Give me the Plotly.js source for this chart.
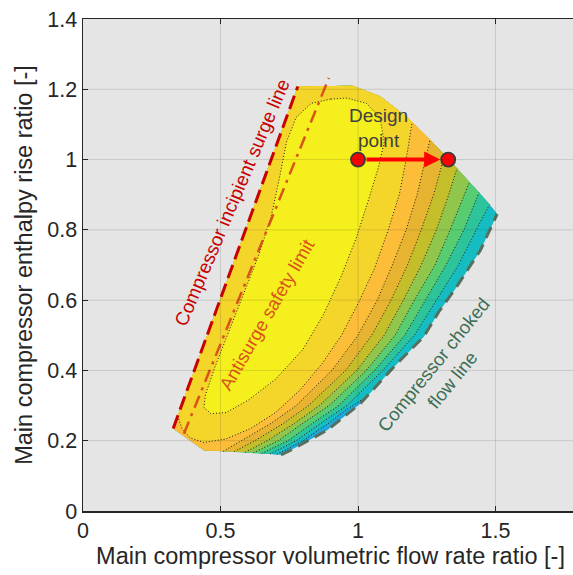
<!DOCTYPE html>
<html>
<head>
<meta charset="utf-8">
<script src="https://cdn.plot.ly/plotly-3.0.1.min.js"></script>
<style>
  html, body { margin: 0; padding: 0; overflow: hidden; background: #ffffff; }
  #chart { width: 578px; height: 575px; }
</style>
</head>
<body>
<div id="chart"></div>
<script>
// ---- axis ticks ----
const xTicks = [0, 0.5, 1, 1.5];
const yTicks = [0, 0.2, 0.4, 0.6, 0.8, 1, 1.2, 1.4];

// ---- operating map outline ----
// upper-right edge, from the choke tip to the top of the surge line
const arcX = [1.506, 1.47, 1.43, 1.36, 1.27, 1.18, 1.08, 0.98, 0.781];
const arcY = [0.845, 0.88, 0.915, 0.975, 1.05, 1.12, 1.18, 1.21, 1.208];
// incipient surge line (left edge)
const surgeX = [0.328, 0.781];
const surgeY = [0.235, 1.208];
// lower edge
const bottomX = [0.328, 0.44, 0.60, 0.72];
const bottomY = [0.235, 0.173, 0.167, 0.16];
// choked flow line (lower-right edge)
const chokeX = [0.72, 0.755, 0.888, 1.009, 1.13, 1.239, 1.294, 1.355, 1.445, 1.506];
const chokeY = [0.16, 0.173, 0.23, 0.306, 0.41, 0.496, 0.567, 0.634, 0.742, 0.845];
// antisurge safety limit
const antisurgeX = [0.367, 0.894];
const antisurgeY = [0.22, 1.232];

// ---- efficiency contour lines ----
// c1: closed island around the peak
const c1X = [0.90, 0.83, 0.775, 0.74, 0.715, 0.685, 0.64, 0.585, 0.53, 0.48, 0.445, 0.44, 0.465, 0.52, 0.60, 0.70, 0.80, 0.875, 0.94, 0.995, 1.04, 1.075, 1.095, 1.08, 1.03, 0.96, 0.90];
const c1Y = [1.172, 1.16, 1.12, 1.05, 0.95, 0.84, 0.73, 0.62, 0.51, 0.41, 0.33, 0.295, 0.277, 0.28, 0.315, 0.375, 0.46, 0.56, 0.67, 0.78, 0.89, 0.98, 1.05, 1.12, 1.16, 1.175, 1.172];
// open contours, each from the surge/lower edge to the upper-right/choke edge
const c2X = [0.344, 0.36, 0.39, 0.44, 0.52, 0.61, 0.70, 0.79, 0.87, 0.94, 1.00, 1.06, 1.11, 1.15, 1.175, 1.19, 1.197];
const c2Y = [0.27, 0.235, 0.208, 0.195, 0.205, 0.235, 0.28, 0.345, 0.42, 0.50, 0.59, 0.69, 0.80, 0.90, 1.00, 1.07, 1.107];
const c3X = [0.51, 0.575, 0.685, 0.775, 0.905, 1.00, 1.07, 1.125, 1.175, 1.215, 1.24, 1.262];
const c3Y = [0.17, 0.20, 0.25, 0.30, 0.40, 0.50, 0.60, 0.70, 0.80, 0.90, 0.98, 1.057];
const c4X = [0.55, 0.625, 0.73, 0.82, 0.955, 1.05, 1.12, 1.18, 1.23, 1.275, 1.315];
const c4Y = [0.169, 0.20, 0.25, 0.30, 0.40, 0.50, 0.60, 0.70, 0.80, 0.90, 1.013];
const c5X = [0.59, 0.67, 0.77, 0.86, 0.995, 1.095, 1.165, 1.23, 1.285, 1.33, 1.36];
const c5Y = [0.167, 0.20, 0.25, 0.30, 0.40, 0.50, 0.60, 0.70, 0.80, 0.90, 0.975];
const c6X = [0.62, 0.71, 0.80, 0.895, 1.03, 1.135, 1.205, 1.28, 1.335, 1.38, 1.405];
const c6Y = [0.166, 0.20, 0.25, 0.30, 0.40, 0.50, 0.60, 0.70, 0.80, 0.89, 0.936];
const c7X = [0.65, 0.745, 0.835, 0.93, 1.06, 1.17, 1.245, 1.32, 1.385, 1.44];
const c7Y = [0.164, 0.20, 0.25, 0.30, 0.40, 0.50, 0.60, 0.70, 0.80, 0.906];
const c8X = [0.68, 0.775, 0.865, 0.96, 1.09, 1.205, 1.285, 1.365, 1.43, 1.478];
const c8Y = [0.162, 0.20, 0.25, 0.30, 0.40, 0.50, 0.60, 0.70, 0.80, 0.872];
const c9X = [0.705, 0.80, 0.89, 0.96, 1.03];
const c9Y = [0.161, 0.20, 0.248, 0.29, 0.324];

// ---- design point and shifted operating point ----
const designX = [1.0, 1.328];
const designY = [1.0, 1.0];

// band fills, lowest efficiency first
const bandColors = ['#1da8de', '#15bdc3', '#2ec49b', '#58cc70', '#90c64c', '#c5be2b', '#e6b431', '#fcbd38', '#f4d52a', '#f5ef1e'];

// closed outline of the map: upper edge, surge line, lower edge, choke line
const ringX = arcX.slice(0, -1).concat([surgeX[1], surgeX[0]], bottomX.slice(1), chokeX.slice(1, -1));
const ringY = arcY.slice(0, -1).concat([surgeY[1], surgeY[0]], bottomY.slice(1), chokeY.slice(1, -1));

function nearestSegment(px, py) {
  const n = ringX.length;
  let best = 0, bestD = Infinity;
  for (let i = 0; i < n; i++) {
    const j = (i + 1) % n;
    const ax = ringX[i], ay = ringY[i], bx = ringX[j], by = ringY[j];
    const dx = bx - ax, dy = by - ay;
    let t = ((px - ax) * dx + (py - ay) * dy) / (dx * dx + dy * dy);
    t = Math.max(0, Math.min(1, t));
    const ex = ax + t * dx - px, ey = ay + t * dy - py;
    const d = ex * ex + ey * ey;
    if (d < bestD) { bestD = d; best = i; }
  }
  return best;
}

// region on the high-efficiency side of an open contour:
// the contour itself, then the outline walked from its end back to its start
function upperRegion(cx, cy) {
  const n = ringX.length;
  const iStart = nearestSegment(cx[0], cy[0]);
  const iEnd = nearestSegment(cx[cx.length - 1], cy[cy.length - 1]);
  const px = cx.slice(), py = cy.slice();
  let j = (iEnd + 1) % n;
  for (let guard = 0; guard <= n; guard++) {
    px.push(ringX[j]); py.push(ringY[j]);
    if (j === iStart) break;
    j = (j + 1) % n;
  }
  px.push(cx[0]); py.push(cy[0]);
  return { x: px, y: py };
}

function fillTrace(x, y, color) {
  return { type: 'scatter', mode: 'lines', x: x, y: y, fill: 'toself', fillcolor: color,
           line: { width: 0, color: color }, hoverinfo: 'skip', showlegend: false };
}
function lineTrace(x, y, color, width, dash) {
  return { type: 'scatter', mode: 'lines', x: x, y: y,
           line: { color: color, width: width, dash: dash }, hoverinfo: 'skip', showlegend: false };
}

const openContours = [[c9X, c9Y], [c8X, c8Y], [c7X, c7Y], [c6X, c6Y], [c5X, c5Y], [c4X, c4Y], [c3X, c3Y], [c2X, c2Y]];

const traces = [];
traces.push(fillTrace(ringX.concat([ringX[0]]), ringY.concat([ringY[0]]), bandColors[0]));
openContours.forEach((c, k) => {
  const r = upperRegion(c[0], c[1]);
  traces.push(fillTrace(r.x, r.y, bandColors[k + 1]));
});
traces.push(fillTrace(c1X, c1Y, bandColors[9]));

// dotted isolines
[[c1X, c1Y]].concat(openContours).forEach(c => {
  traces.push(lineTrace(c[0], c[1], '#1a1a1a', 1, '1px,2px'));
});

// limit lines
traces.push(lineTrace(chokeX, chokeY, '#56705f', 3, '12px,7px'));
traces.push(lineTrace(surgeX, surgeY, '#c80000', 3, '14px,6px'));
traces.push(lineTrace(antisurgeX, antisurgeY, '#d95319', 2.5, '13px,6px,3px,6px'));

// operating points
traces.push({ type: 'scatter', mode: 'markers', x: designX, y: designY,
  marker: { size: 14, color: '#ff0000', line: { color: '#3a3a3a', width: 1.8 } },
  hoverinfo: 'skip', showlegend: false });

// grid drawn over the filled map
const gridColor = 'rgba(38,38,38,0.15)';
const shapes = [];
xTicks.slice(1).forEach(v => shapes.push({ type: 'line', xref: 'x', yref: 'paper', x0: v, x1: v, y0: 0, y1: 1,
  line: { color: gridColor, width: 1 }, layer: 'above' }));
yTicks.slice(1, yTicks.length - 1).forEach(v => shapes.push({ type: 'line', xref: 'paper', yref: 'y', x0: 0, x1: 1, y0: v, y1: v,
  line: { color: gridColor, width: 1 }, layer: 'above' }));

const font = 'Liberation Sans, Arial, Helvetica, sans-serif';
const annotations = [
  { x: 0.542, y: 0.878, xref: 'x', yref: 'y', text: 'Compressor incipient surge line', showarrow: false,
    textangle: -67, font: { family: font, size: 19, color: '#c80000' } },
  { x: 0.668, y: 0.56, xref: 'x', yref: 'y', text: 'Antisurge safety limit', showarrow: false,
    textangle: -60, font: { family: font, size: 18.5, color: '#d95319' } },
  { x: 1.308, y: 0.395, xref: 'x', yref: 'y', text: 'Compressor choked<br>flow line', showarrow: false,
    textangle: -51, font: { family: font, size: 18.5, color: '#3b6e54' } },
  { x: 1.075, y: 1.09, xref: 'x', yref: 'y', text: 'Design<br>point', showarrow: false,
    font: { family: font, size: 19, color: '#404040' } },
  { x: designX[1], y: designY[1], ax: designX[0], ay: designY[0], xref: 'x', yref: 'y', axref: 'x', ayref: 'y',
    text: '', showarrow: true, arrowhead: 2, arrowsize: 0.8, arrowwidth: 4, arrowcolor: '#ff0000',
    standoff: 8, startstandoff: 7 }
];

const axisCommon = {
  ticks: 'inside', ticklen: 5, tickwidth: 1, tickcolor: '#262626',
  showline: true, linecolor: '#262626', linewidth: 1.5, mirror: 'ticks',
  zeroline: false, showgrid: false, automargin: false, fixedrange: true,
  tickfont: { family: font, size: 21.5, color: '#262626' }
};

const layout = {
  width: 578, height: 575,
  margin: { l: 83, r: 0, t: 19, b: 64 },
  paper_bgcolor: '#ffffff', plot_bgcolor: '#e5e5e5',
  font: { family: font },
  xaxis: Object.assign({}, axisCommon, {
    range: [0, 1.8], tickvals: xTicks,
    title: { text: 'Main compressor volumetric flow rate ratio [-]', font: { family: font, size: 23.5, color: '#262626' }, standoff: 4 }
  }),
  yaxis: Object.assign({}, axisCommon, {
    range: [0, 1.4], tickvals: yTicks,
    title: { text: 'Main compressor enthalpy rise ratio [-]', font: { family: font, size: 23.5, color: '#262626' }, standoff: 8 }
  }),
  shapes: shapes,
  annotations: annotations,
  showlegend: false
};

Plotly.newPlot('chart', traces, layout, { displayModeBar: false, staticPlot: true });
</script>
</body>
</html>
